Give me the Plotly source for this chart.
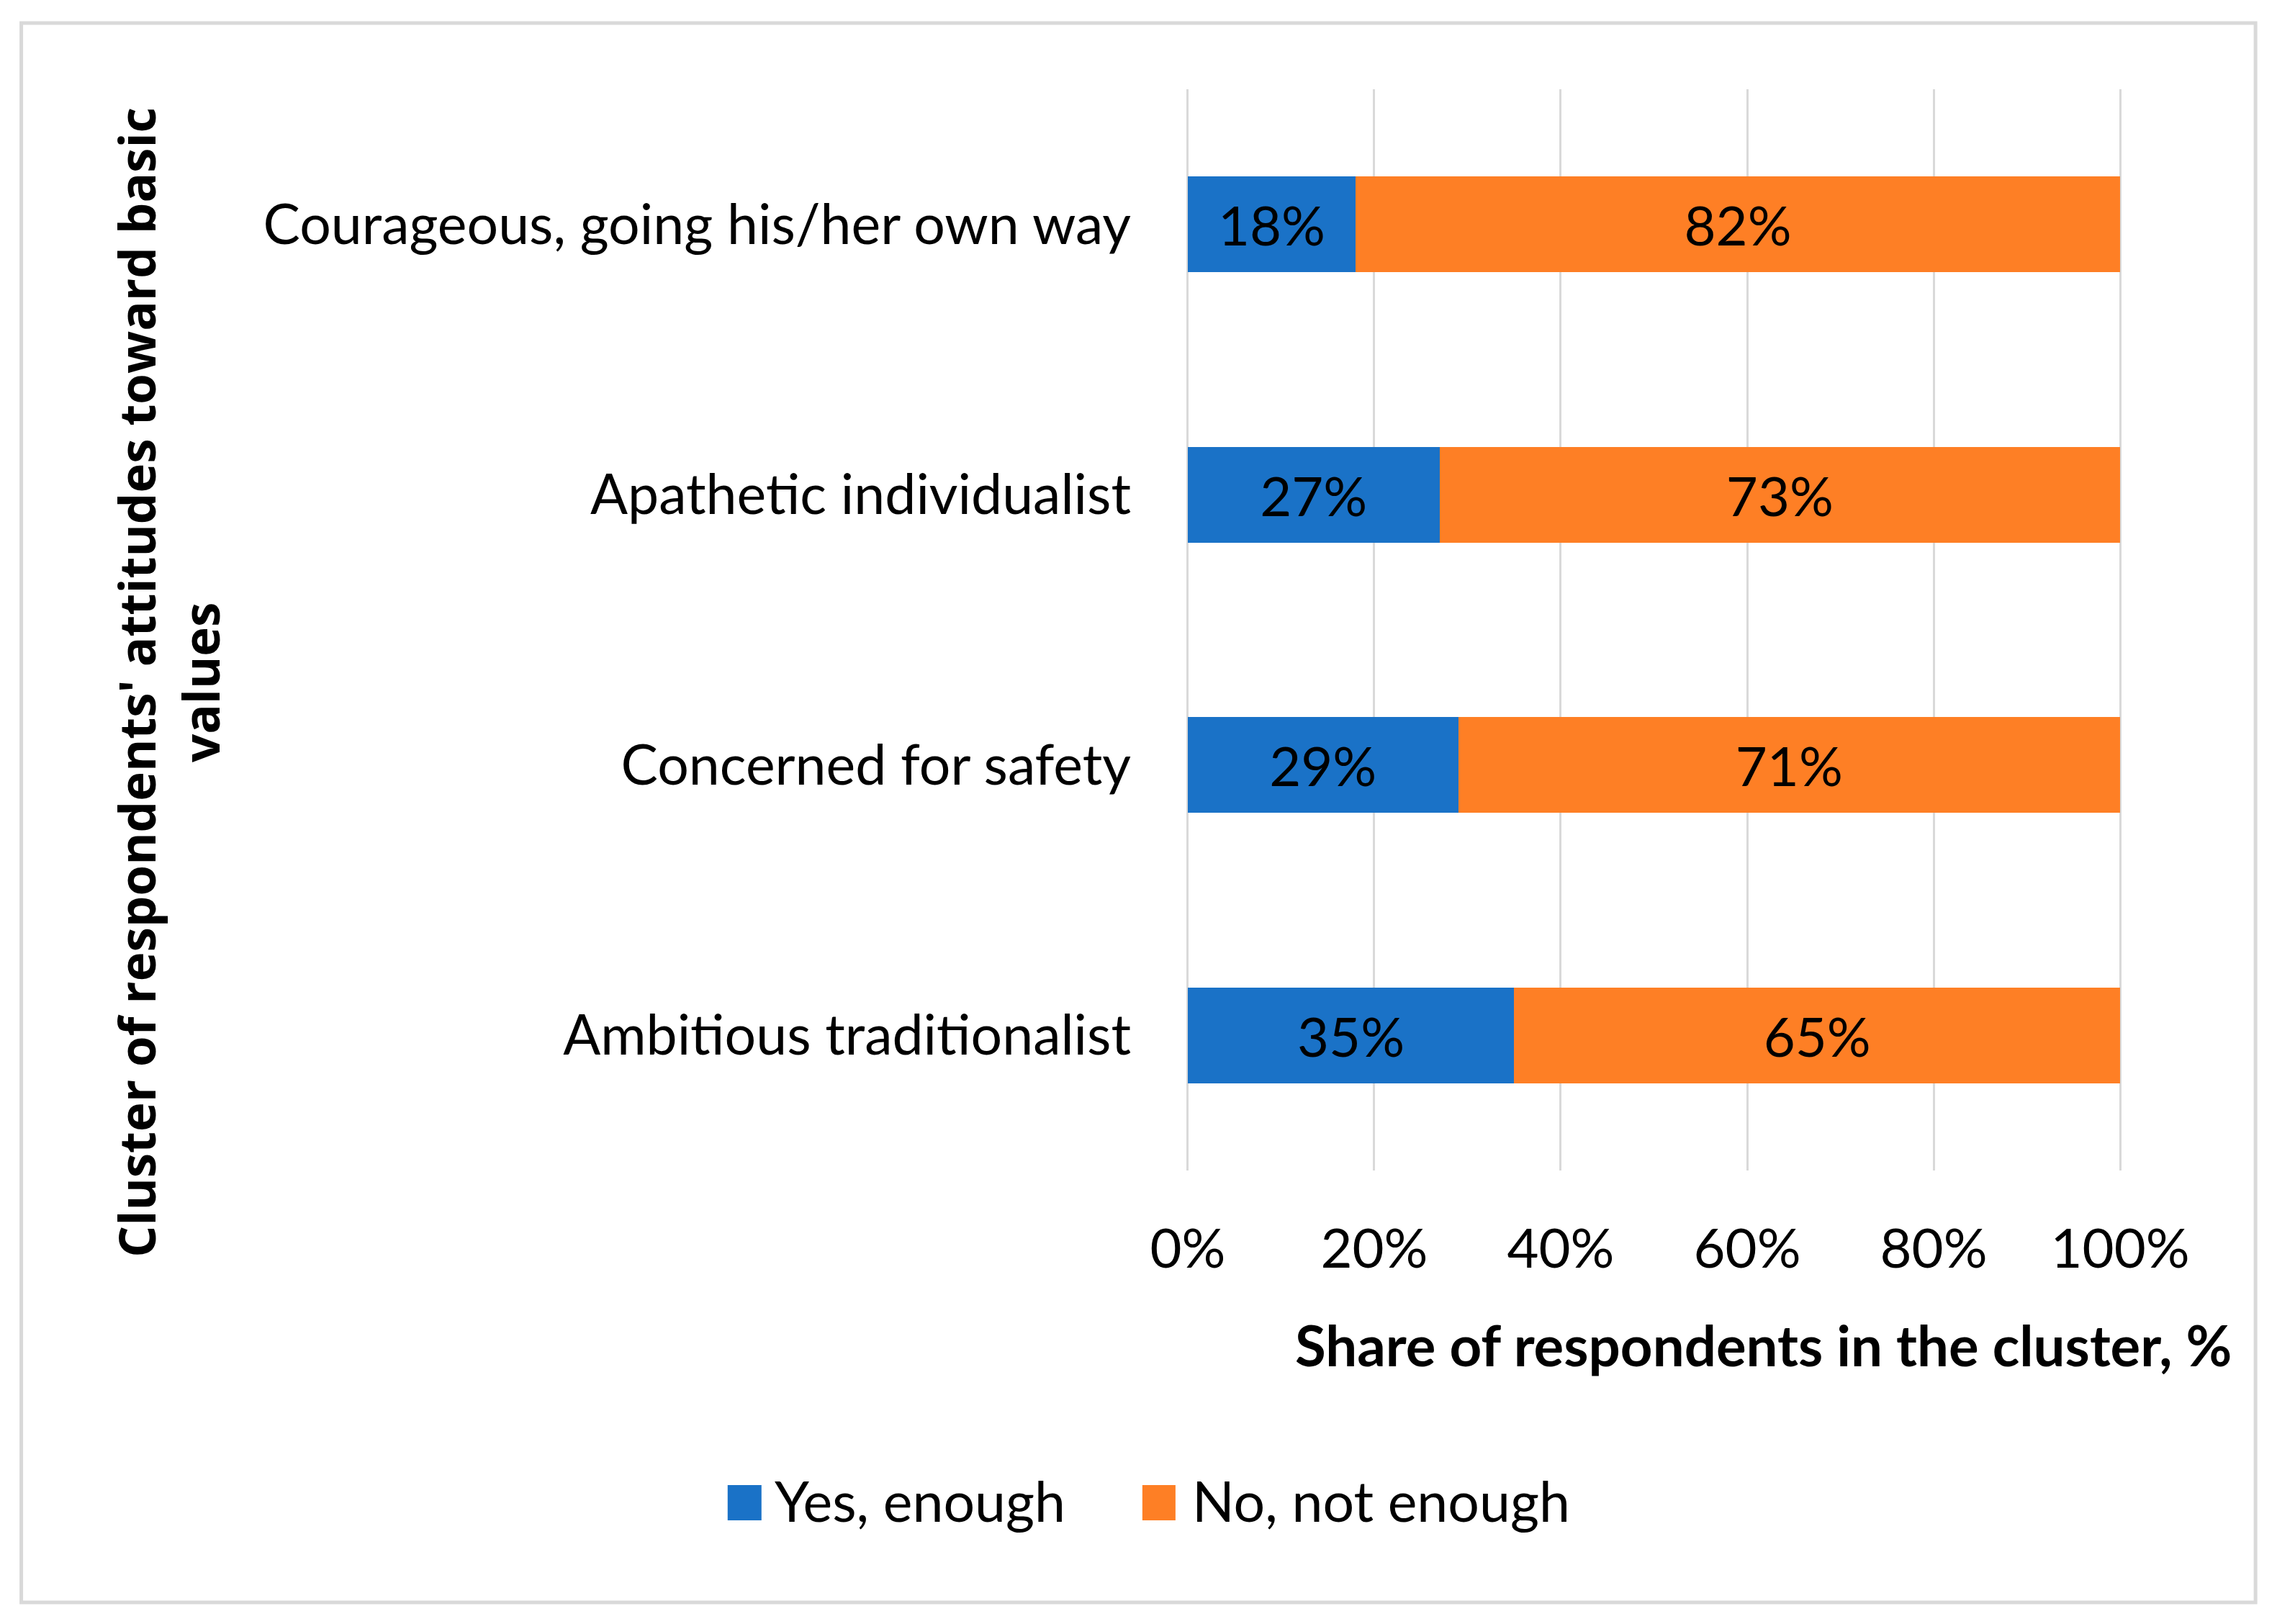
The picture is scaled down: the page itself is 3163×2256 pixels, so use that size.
import plotly.graph_objects as go

categories = ["Courageous, going his/her own way", "Apathetic individualist",
              "Concerned for safety", "Ambitious traditionalist"]
yes_enough = [0.18, 0.27, 0.29, 0.35]
no_not_enough = [0.82, 0.73, 0.71, 0.65]
series_names = ["Yes, enough", "No, not enough"]
x_ticks = [0, 0.2, 0.4, 0.6, 0.8, 1.0]
x_title = "Share of respondents in the cluster, %"
y_title = "Cluster of respondents' attitudes toward basic<br>values"

# page body has an 8px margin; all target pixel positions are screen coords
OFF = 8
W, H = 3163 - 2 * OFF, 2256 - 2 * OFF
X0, X1, T, B = 1650 - OFF, 2945 - OFF, 124 - OFF, 1626 - OFF
EPS = 0.003
L = X0 - (X1 - X0) * EPS
R = X1 + (X1 - X0) * EPS
BLUE = "#1A72C7"
ORANGE = "#FE7F25"
GRID = "#D9D9D9"
FONT = "Lato"


def px_x(p):
    return (p - OFF - L) / (R - L)


def px_y(p):
    return (B - (p - OFF)) / (B - T)


fig = go.Figure()
for name, vals, col in [(series_names[0], yes_enough, BLUE),
                        (series_names[1], no_not_enough, ORANGE)]:
    fig.add_trace(go.Bar(
        y=categories, x=vals, name=name, orientation="h",
        marker=dict(color=col, line=dict(width=0)),
        width=0.354,
        texttemplate="%{x:.0%}", textposition="inside",
        insidetextanchor="middle", constraintext="none",
        textfont=dict(family=FONT, size=76, color="black"),
        showlegend=False,
    ))

fig.update_layout(
    width=W, height=H,
    margin=dict(l=L, r=W - R, t=T, b=H - B, pad=0),
    barmode="stack",
    paper_bgcolor="white", plot_bgcolor="white",
    font=dict(family=FONT, size=76, color="black"),
    showlegend=False,
)
fig.update_xaxes(
    range=[-EPS, 1 + EPS], tickvals=x_ticks, tickformat=".0%",
    showgrid=True, gridcolor=GRID, gridwidth=3,
    zeroline=False, showline=False, ticks="",
    tickfont=dict(family=FONT, size=76, color="black"),
    ticklabelstandoff=58,
)
fig.update_yaxes(
    autorange="reversed", showgrid=False, zeroline=False, showline=False,
    ticks="", tickfont=dict(family=FONT, size=77, color="black"),
    ticklabelstandoff=74,
)

# axis titles
fig.add_annotation(text=x_title, xref="paper", yref="paper",
                   x=px_x(2449), y=px_y(1868), xanchor="center", yanchor="middle",
                   showarrow=False, font=dict(family=FONT, size=78, color="black", weight="bold"))
fig.add_annotation(text=y_title, xref="paper", yref="paper",
                   x=px_x(234), y=px_y(948), xanchor="center", yanchor="middle",
                   textangle=-90, showarrow=False,
                   font=dict(family="Open Sans", size=69, color="black", weight="bold"))

# legend (drawn manually)
leg_y0, leg_y1 = 2063, 2112
for (sx0, sx1, tx, name, col) in [(1011, 1058, 1074, series_names[0], BLUE),
                                   (1587, 1633, 1654, series_names[1], ORANGE)]:
    fig.add_shape(type="rect", xref="paper", yref="paper",
                  x0=px_x(sx0), x1=px_x(sx1), y0=px_y(leg_y1), y1=px_y(leg_y0),
                  fillcolor=col, line=dict(width=0))
    fig.add_annotation(text=name, xref="paper", yref="paper",
                       x=px_x(tx), y=px_y(2084), xanchor="left", yanchor="middle",
                       showarrow=False, font=dict(family=FONT, size=77, color="black"))

# outer border
fig.add_shape(type="rect", xref="paper", yref="paper",
              x0=px_x(30), x1=px_x(3133), y0=px_y(2226), y1=px_y(32),
              line=dict(color=GRID, width=5), fillcolor="rgba(0,0,0,0)", layer="below")

fig.write_html("out.html")
